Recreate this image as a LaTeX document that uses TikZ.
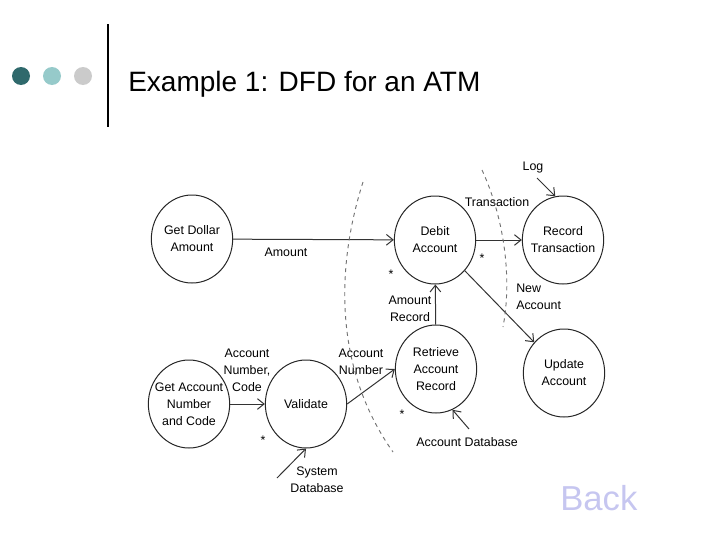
\documentclass[tikz,border=0pt]{standalone}
\usepackage{fontspec}
\setmainfont{Liberation Sans}
\usetikzlibrary{arrows.meta,shapes.geometric}
\definecolor{darkteal}{RGB}{47,105,108}
\definecolor{lightteal}{RGB}{150,202,202}
\definecolor{dotgray}{RGB}{203,203,203}
\definecolor{backblue}{RGB}{198,198,240}
\newcommand{\dfdfont}{\fontsize{9.3}{12.8}\selectfont}
\begin{document}
\begin{tikzpicture}[x=0.75pt,y=-0.75pt,
  proc/.style={draw=black!85,line width=0.75pt,ellipse,minimum width=61pt,minimum height=66pt,inner xsep=-6pt,inner ysep=0pt,align=center,font=\dfdfont},
  flow/.style={draw=black!80,line width=0.75pt,-{Straight Barb[length=5pt,width=8pt]}},
  lbl/.style={align=center,font=\dfdfont,inner sep=0pt},
  bound/.style={black!55,line width=0.7pt,dash pattern=on 3pt off 3pt}]
  \useasboundingbox (0,0) rectangle (728,546);
  \fill [darkteal] (21,76) circle [radius=9];
  \fill [lightteal] (52,76) circle [radius=9];
  \fill [dotgray] (83,76) circle [radius=9];
  \draw [line width=2.2pt] (108,24)--(108,127);
  \node [anchor=base west,inner sep=0pt,font=\fontsize{21}{25}\selectfont] (title) at (128,91) {Example 1: DFD for an ATM};
  \node [proc] (getamt) at (192,239) {Get Dollar\\Amount};
  \node [proc] (debit) at (435,240) {Debit\\Account};
  \node [proc] (record) at (563,240) {Record\\Transaction};
  \node [proc] (update) at (564,373) {Update\\Account};
  \node [proc] (retrieve) at (436,369) {Retrieve\\Account\\Record};
  \node [proc] (validate) at (306,404) {Validate};
  \node [proc] (getacct) at (189,404) {Get Account\\Number\\and Code};
  \node [lbl] (amtlbl) at (286,252) {Amount};
  \node [lbl] (translbl) at (497,202) {Transaction};
  \node [lbl] (loglbl) at (533,168) {Log};
  \node [lbl,align=left,anchor=west] (newlbl) at (516,297) {New\\Account};
  \node [lbl] (amtrec) at (410,309) {Amount\\Record};
  \node [lbl] (acnocode) at (247,370) {Account\\Number,\\Code};
  \node [lbl] (acnolbl) at (361,362) {Account\\Number};
  \node [lbl] (syslbl) at (317,480) {System\\Database};
  \node [lbl] (acdblbl) at (467,442) {Account Database};
  \draw [flow] (getamt) -- (debit);
  \draw [flow] (debit) -- (record);
  \draw [flow] (debit) -- (update);
  \draw [flow] (retrieve) -- (debit);
  \draw [flow] (getacct) -- (validate);
  \draw [flow] (validate.east) -- (retrieve.west);
  \coordinate (logtail) at (537,178);
  \draw [flow] (logtail) -- (record.100);
  \coordinate (systail) at (277,478);
  \draw [flow] (systail) -- (validate.south);
  \coordinate (acdbtail) at (469,429);
  \draw [flow] (acdbtail) -- (retrieve.-68);
  \node [lbl] (star1) at (391,274) {*};
  \node [lbl] (star2) at (482,258) {*};
  \node [lbl] (star3) at (263,440) {*};
  \node [lbl] (star4) at (402,414) {*};
  \draw [bound] (363,182) .. controls (335,270) and (335,370) .. (393,452);
  \draw [bound] (482,170) .. controls (505,220) and (512,280) .. (503,327);
  \node [anchor=base west,inner sep=0pt,text=backblue,font=\fontsize{26}{30}\selectfont] (back) at (560,510) {Back};
\end{tikzpicture}
\end{document}
